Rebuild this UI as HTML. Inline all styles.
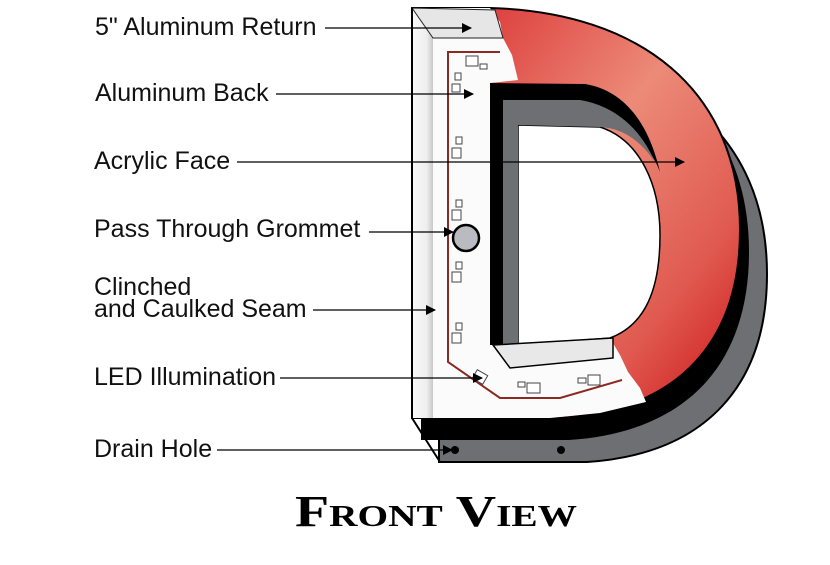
<!DOCTYPE html>
<html><head><meta charset="utf-8"><style>
html,body{margin:0;padding:0;background:#fff;width:830px;height:565px;overflow:hidden}
svg{display:block}
text{font-family:"Liberation Sans",sans-serif;font-size:25px;fill:#111}
</style></head><body>
<svg width="830" height="565" viewBox="0 0 830 565" xmlns="http://www.w3.org/2000/svg">
<defs>
<linearGradient id="red" x1="0" y1="0" x2="1" y2="1">
<stop offset="0" stop-color="#d8262a"/><stop offset="0.45" stop-color="#ec8a78"/><stop offset="0.75" stop-color="#e05a50"/><stop offset="1" stop-color="#cc1015"/>
</linearGradient>
<linearGradient id="strip" x1="0" y1="0" x2="1" y2="0">
<stop offset="0" stop-color="#fafafa"/><stop offset="0.7" stop-color="#eeeeee"/><stop offset="1" stop-color="#c8c8c8"/>
</linearGradient>
<marker id="ah" markerWidth="10" markerHeight="10" refX="9" refY="5" orient="auto" markerUnits="userSpaceOnUse"><path d="M0,0 L10,5 L0,10 Z" fill="#000"/></marker>
</defs>
<path d="M412,8 L490,8 C640,12 740,90 740,230 C740,340 680,410 560,418 L412,418 Z" transform="translate(27,44)" fill="#6e6f73" stroke="#000" stroke-width="2"/>
<path d="M412,418 L440,462" stroke="#000" stroke-width="2"/>
<path d="M412,8 L490,8 C640,12 740,90 740,230 C740,340 680,410 560,418 L412,418 Z" transform="translate(9,22)" fill="#000"/>
<path d="M412,8 L490,8 C640,12 740,90 740,230 C740,340 680,410 560,418 L412,418 Z" fill="url(#red)" stroke="#000" stroke-width="2"/>
<path d="M412,8 L490,8 L500,22 L503,38 L512,55 L518,80 L490,83 L490,345 L610,338 L620,355 L628,372 L640,388 L646,402 L600,413 L550,418 L412,418 Z" fill="#fbfbfb"/>
<path d="M412,8 L412,418 L433,418 L433,38 Z" fill="url(#strip)"/>
<path d="M412,8 L433,38 L503,38 L495,10 Z" fill="#e6e6e6" stroke="#222" stroke-width="1"/>
<line x1="412" y1="8" x2="412" y2="418" stroke="#000" stroke-width="2"/>
<!-- inner hole -->
<path d="M518,125 L600,127 C640,140 660,185 660,235 C660,290 645,325 610,338 L518,345 Z" fill="#fff" stroke="#000" stroke-width="1.5"/>
<path d="M490,83 L585,84 C622,90 648,120 660,172 C650,145 630,128 600,127 L518,125 L518,345 L490,345 Z" fill="#000"/>
<path d="M503,100 L580,100 C615,106 640,128 655,162 C640,140 622,128 600,127 L518,125 L518,345 L503,345 Z" fill="#6e6f73"/>
<path d="M493,345 L613,338 L613,358 L510,368 Z" fill="#e8e8e8" stroke="#000" stroke-width="1.5"/>
<path d="M500,52 L448,52 L448,362 L500,398 L560,398 L622,380" fill="none" stroke="#8b2a22" stroke-width="2"/>
<g fill="#fff" stroke="#444" stroke-width="1">
<rect x="466" y="56" width="12" height="10"/><rect x="480" y="64" width="7" height="5"/>
<rect x="455" y="73" width="6" height="7"/><rect x="452" y="84" width="8" height="8"/>
<rect x="456" y="137" width="6" height="7"/><rect x="452" y="148" width="9" height="10"/>
<rect x="456" y="200" width="6" height="7"/><rect x="452" y="210" width="9" height="10"/>
<rect x="456" y="262" width="6" height="7"/><rect x="452" y="272" width="9" height="10"/>
<rect x="456" y="323" width="6" height="7"/><rect x="452" y="333" width="9" height="10"/>
<rect x="474" y="372" width="12" height="10" transform="rotate(30 480 377)"/>
<rect x="527" y="383" width="13" height="10"/><rect x="518" y="382" width="7" height="5"/>
<rect x="588" y="375" width="12" height="10"/><rect x="578" y="378" width="8" height="5"/>
</g>
<circle cx="466" cy="238" r="13" fill="#b9bbc0" stroke="#000" stroke-width="2.5"/>
<circle cx="455" cy="450" r="4" fill="#000"/><circle cx="561" cy="450" r="4" fill="#000"/>
<text x="95" y="35">5" Aluminum Return</text>
<line x1="325" y1="28" x2="471" y2="28" stroke="#000" stroke-width="1.3" marker-end="url(#ah)"/>
<text x="95" y="101">Aluminum Back</text>
<line x1="276" y1="94" x2="473" y2="94" stroke="#000" stroke-width="1.3" marker-end="url(#ah)"/>
<text x="94" y="169">Acrylic Face</text>
<line x1="237" y1="162" x2="684" y2="162" stroke="#000" stroke-width="1.3" marker-end="url(#ah)"/>
<text x="94" y="237">Pass Through Grommet</text>
<line x1="369" y1="232" x2="453" y2="232" stroke="#000" stroke-width="1.3" marker-end="url(#ah)"/>
<text x="94" y="295">Clinched</text>
<text x="94" y="317">and Caulked Seam</text>
<line x1="313" y1="310" x2="435" y2="310" stroke="#000" stroke-width="1.3" marker-end="url(#ah)"/>
<text x="94" y="385">LED Illumination</text>
<line x1="280" y1="378" x2="482" y2="378" stroke="#000" stroke-width="1.3" marker-end="url(#ah)"/>
<text x="94" y="457">Drain Hole</text>
<line x1="217" y1="450" x2="452" y2="450" stroke="#000" stroke-width="1.3" marker-end="url(#ah)"/>
<text x="295" y="526" textLength="282" lengthAdjust="spacingAndGlyphs" style="font-family:'Liberation Serif',serif;font-weight:bold;font-size:44px;font-variant:small-caps;fill:#000">Front View</text>
</svg>
</body></html>
